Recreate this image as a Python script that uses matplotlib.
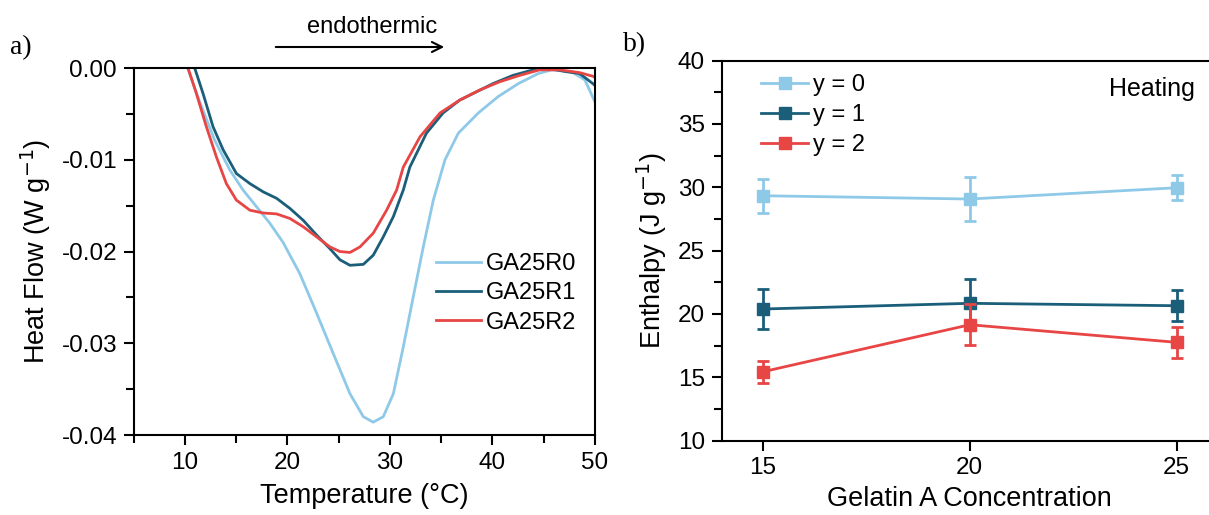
import matplotlib
matplotlib.use("Agg")
import matplotlib.pyplot as plt
from matplotlib.ticker import MultipleLocator, FormatStrFormatter

plt.rcParams["font.family"] = ["Liberation Sans", "DejaVu Sans"]
plt.rcParams["axes.unicode_minus"] = False

LIGHT = "#8fc9e8"
DARK = "#1b5e7a"
RED = "#e84545"

# panel a: DSC heat flow curves (temperature in deg C, heat flow in W/g)
r0_temp = [10.26, 11.38, 12.87, 14.37, 15.67, 16.97, 18.27, 19.57, 21.2, 22.84,
           24.46, 26.1, 27.4, 28.37, 29.35, 30.33, 31.3, 32.28, 33.25, 34.23,
           35.37, 36.67, 38.62, 40.57, 42.52, 44.47, 45.77, 47.72, 49.02, 50.0]
r0_flow = [0.0, -0.0035, -0.0078, -0.0111, -0.0133, -0.0151, -0.0169, -0.0190,
           -0.0224, -0.0267, -0.0311, -0.0355, -0.0380, -0.0386, -0.0380, -0.0355,
           -0.0304, -0.0249, -0.0195, -0.0144, -0.0100, -0.0071, -0.0049, -0.0031,
           -0.0017, -0.0006, -0.0002, -0.0004, -0.0013, -0.0037]

r1_temp = [10.95, 11.77, 12.74, 13.72, 15.02, 16.34, 17.64, 18.94, 20.24, 21.54,
           22.84, 24.15, 25.12, 26.1, 27.4, 28.37, 29.35, 30.33, 31.3, 31.94,
           33.56, 35.18, 36.8, 38.43, 40.05, 42.0, 43.95, 45.25, 47.2, 48.5, 49.8, 50.0]
r1_flow = [0.0, -0.0028, -0.0064, -0.0089, -0.0115, -0.0126, -0.0135, -0.0142,
           -0.0153, -0.0166, -0.0182, -0.0197, -0.0209, -0.0215, -0.0214, -0.0204,
           -0.0184, -0.0162, -0.0133, -0.0108, -0.0071, -0.0049, -0.0035, -0.0026,
           -0.0017, -0.0008, -0.0002, 0.0, -0.0004, -0.0006, -0.0017, -0.0019]

r2_temp = [10.3, 11.12, 12.09, 13.07, 14.04, 15.02, 16.34, 17.64, 18.94, 20.24,
           21.54, 22.84, 24.15, 25.12, 26.1, 27.07, 28.37, 29.67, 30.65, 31.3,
           32.93, 34.88, 36.8, 38.75, 40.7, 42.66, 44.6, 46.55, 48.5, 49.8, 50.0]
r2_flow = [0.0, -0.0028, -0.0064, -0.0097, -0.0126, -0.0144, -0.0155, -0.0158,
           -0.0159, -0.0164, -0.0173, -0.0184, -0.0195, -0.0200, -0.0201, -0.0195,
           -0.0180, -0.0155, -0.0133, -0.0108, -0.0075, -0.0049, -0.0035, -0.0024,
           -0.0015, -0.0008, -0.0002, -0.0002, -0.0005, -0.0009, -0.0010]

curve_labels = ["GA25R0", "GA25R1", "GA25R2"]

# panel b: enthalpy vs gelatin A concentration
conc = [15, 20, 25]
enth_y0 = [29.33, 29.07, 29.96]
err_y0 = [1.35, 1.7, 1.0]
enth_y1 = [20.39, 20.84, 20.65]
err_y1 = [1.58, 1.95, 1.22]
enth_y2 = [15.44, 19.15, 17.76]
err_y2 = [0.85, 1.6, 1.22]
series_labels = ["y = 0", "y = 1", "y = 2"]

fig = plt.figure(figsize=(12.09, 5.15), dpi=100)


def style_axes(ax):
    for s in ax.spines.values():
        s.set_linewidth(1.5)
    ax.tick_params(which="both", direction="out", width=1.5, labelsize=17.5,
                   top=False, right=False, pad=5)
    ax.tick_params(which="major", length=7)
    ax.tick_params(which="minor", length=6)


# ---- panel a ----
ax1 = fig.add_axes([0.1106, 0.1553, 0.3815, 0.7126])
for t, f, c, lab in zip([r0_temp, r1_temp, r2_temp], [r0_flow, r1_flow, r2_flow],
                        [LIGHT, DARK, RED], curve_labels):
    ax1.plot(t, f, color=c, lw=2.0, label=lab)
ax1.set_xlim(5, 50)
ax1.set_ylim(-0.04, 0.0)
ax1.xaxis.set_major_locator(MultipleLocator(10))
ax1.xaxis.set_minor_locator(MultipleLocator(5))
ax1.yaxis.set_major_locator(MultipleLocator(0.01))
ax1.yaxis.set_minor_locator(MultipleLocator(0.005))
ax1.yaxis.set_major_formatter(FormatStrFormatter("%.2f"))
style_axes(ax1)
ax1.set_xlabel("Temperature (°C)", fontsize=19.5, labelpad=7)
ax1.set_ylabel("Heat Flow (W g$^{-1}$)", fontsize=19.5, labelpad=6)
ax1.legend(loc="upper left", bbox_to_anchor=(0.655, 0.495), frameon=False,
           fontsize=17, handlelength=1.9, handletextpad=0.2, labelspacing=0.3,
           borderpad=0, borderaxespad=0)
ax1.annotate("", xy=(447 / 1209, 1 - 47 / 515), xytext=(273 / 1209, 1 - 47 / 515),
             xycoords="figure fraction",
             arrowprops=dict(arrowstyle="->", lw=1.5, color="black",
                             mutation_scale=18))
fig.text(372 / 1209, 1 - 27 / 515, "endothermic", ha="center", va="center",
         fontsize=17)
fig.text(10 / 1209, 1 - 48 / 515, "a)", family="Liberation Serif", fontsize=20,
         ha="left", va="center")

# ---- panel b ----
ax2 = fig.add_axes([0.5968, 0.1443, 0.4107, 0.7382])
for e, err, c, lab in zip([enth_y0, enth_y1, enth_y2], [err_y0, err_y1, err_y2],
                          [LIGHT, DARK, RED], series_labels):
    ax2.errorbar(conc, e, yerr=err, fmt="none", ecolor=c, elinewidth=2,
                 capsize=4, capthick=2)
    ax2.plot(conc, e, color=c, lw=2, marker="s", markersize=8, label=lab)
ax2.set_xlim(14, 26)
ax2.set_ylim(10, 40)
ax2.xaxis.set_major_locator(MultipleLocator(5))
ax2.yaxis.set_major_locator(MultipleLocator(5))
ax2.yaxis.set_minor_locator(MultipleLocator(2.5))
style_axes(ax2)
ax2.set_xlabel("Gelatin A Concentration", fontsize=19.5, labelpad=5)
ax2.set_ylabel("Enthalpy (J g$^{-1}$)", fontsize=19.5, labelpad=6)
ax2.legend(loc="upper left", bbox_to_anchor=(0.08, 0.965), frameon=False,
           fontsize=17, handlelength=2.0, handletextpad=0.2, labelspacing=0.35,
           borderpad=0, borderaxespad=0)
ax2.text(1195 / 1209, 1 - 89 / 515, "Heating", transform=fig.transFigure,
         ha="right", va="center", fontsize=18)
fig.text(623 / 1209, 1 - 45 / 515, "b)", family="Liberation Serif", fontsize=20,
         ha="left", va="center")

fig.savefig("out.png", dpi=100)
